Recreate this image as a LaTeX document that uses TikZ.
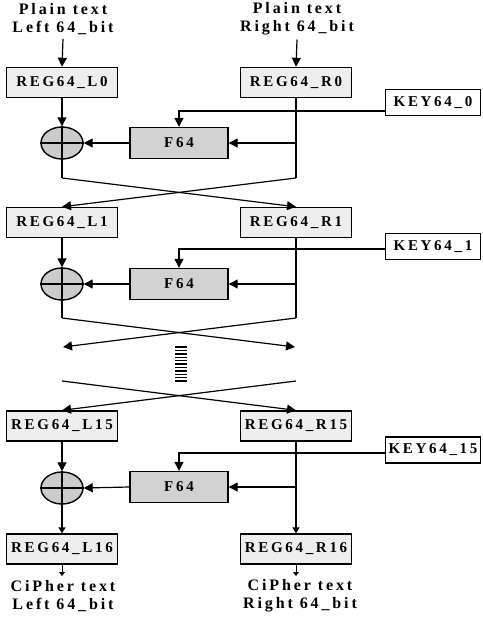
\documentclass[tikz,border=0pt]{standalone}
\usepackage{fontspec}
\setmainfont{Liberation Serif}[LetterSpace=18]
\usetikzlibrary{arrows.meta,shapes.geometric}
\begin{document}
\begin{tikzpicture}[x=1pt,y=-1pt,
  every node/.style={font=\fontsize{15}{18}\selectfont\bfseries},
  reg/.style={draw,line width=1.4pt,fill=gray!13,minimum width=111pt,minimum height=30pt,inner sep=0pt},
  keybox/.style={draw,line width=1.4pt,fill=white,minimum width=95pt,minimum height=26pt,inner sep=0pt},
  fbox/.style={draw,line width=1.4pt,fill=gray!35,minimum width=98pt,minimum height=31pt,inner sep=0pt},
  xorn/.style={draw,ellipse,line width=1.4pt,fill=gray!40,minimum width=42pt,minimum height=32pt,inner sep=0pt},
  lbl/.style={align=center,inner sep=0pt,font=\fontsize{16}{18}\selectfont\bfseries},
  conn/.style={line width=1.2pt},
  arr/.style={conn,-{Triangle[length=9pt,width=9pt]}},
  marr/.style={conn,-{Triangle[length=6pt,width=7pt]}},
  sarr/.style={line width=0.9pt,-{Triangle[length=4pt,width=6pt]}},
  hatch/.style={line width=1.4pt}]
\useasboundingbox (0,0) rectangle (482,617);

% labels
\node[lbl] (pl) at (63,19) {Plain text\\Left 64\_bit};
\node[lbl] (pr) at (297,19) {Plain text\\Right 64\_bit};

% round 0
\node[reg] (L0) at (62,82.5) {REG64\_L0};
\node[reg] (R0) at (296,82.5) {REG64\_R0};
\node[keybox] (K0) at (433,102.5) {KEY64\_0};
\node[fbox] (F0) at (179,143) {F64};
\node[xorn] (X0) at (62,143) {};
\coordinate (a0) at (62,178);
\coordinate (b0) at (296,178);

% round 1
\node[reg] (L1) at (62,222.5) {REG64\_L1};
\node[reg] (R1) at (296,222.5) {REG64\_R1};
\node[keybox] (K1) at (433,246.5) {KEY64\_1};
\node[fbox] (F1) at (179,284) {F64};
\node[xorn] (X1) at (62,284) {};
\coordinate (a1) at (62,318);
\coordinate (b1) at (296,318);
\coordinate (c1) at (63,347);
\coordinate (d1) at (295,347);
\coordinate (a2) at (62,381);
\coordinate (b2) at (296,381);

% round 15
\node[reg] (L15) at (62,426) {REG64\_L15};
\node[reg] (R15) at (296,426) {REG64\_R15};
\node[keybox] (K15) at (433,450) {KEY64\_15};
\node[fbox] (F2) at (179,487) {F64};
\node[xorn] (X2) at (62,488) {};

% output
\node[reg] (L16) at (62,549) {REG64\_L16};
\node[reg] (R16) at (296,549) {REG64\_R16};
\coordinate (o1) at (62,576);
\coordinate (o2) at (296,576);
\node[lbl] (cl) at (63,596) {CiPher text\\Left 64\_bit};
\node[lbl] (cr) at (300,596) {CiPher text\\Right 64\_bit};

% connectors round 0
\draw[arr] ([yshift=-4pt]pl.south) -- (L0.north);
\draw[arr] ([yshift=-4pt]pr.south) -- (R0.north);
\draw[arr] (L0.south) -- (X0.north);
\draw[conn] (R0.south) -- (b0);
\draw[arr] ([yshift=-8.5pt]K0.west) -| (F0.north);
\draw[arr] (R0.south |- F0.east) -- (F0.east);
\draw[arr] (F0.west) -- (X0.east);
\draw[conn] (X0.west) -- (X0.east);
\draw[conn] (X0.north) -- (a0);
\draw[arr] (a0) -- (R1.north);
\draw[arr] (b0) -- (L1.north);

% connectors round 1
\draw[arr] (L1.south) -- (X1.north);
\draw[conn] (R1.south) -- (b1);
\draw[arr] ([yshift=-2.5pt]K1.west) -| (F1.north);
\draw[arr] (R1.south |- F1.east) -- (F1.east);
\draw[arr] (F1.west) -- (X1.east);
\draw[conn] (X1.west) -- (X1.east);
\draw[conn] (X1.north) -- (a1);
\draw[arr] (a1) -- (d1);
\draw[arr] (b1) -- (c1);

% ellipsis hatch
\foreach \i in {0,...,10} \draw[hatch] (175,{347+3.4*\i}) -- (187,{347+3.4*\i});

\draw[arr] (a2) -- (R15.north);
\draw[arr] (b2) -- (L15.north);

% connectors round 15
\draw[arr] (L15.south) -- (X2.north);
\draw[marr] (R15.south) -- (R16.north);
\draw[arr] ([yshift=-3pt]K15.west) -| (F2.north);
\draw[arr] (R15.south |- F2.east) -- (F2.east);
\draw[arr] (F2.west) -- (X2.east);
\draw[conn] (X2.west) -- (X2.east);
\draw[marr] (X2.north) -- (L16.north);

% outputs
\draw[sarr] (L16.south) -- (o1);
\draw[sarr] (R16.south) -- (o2);
\end{tikzpicture}
\end{document}
